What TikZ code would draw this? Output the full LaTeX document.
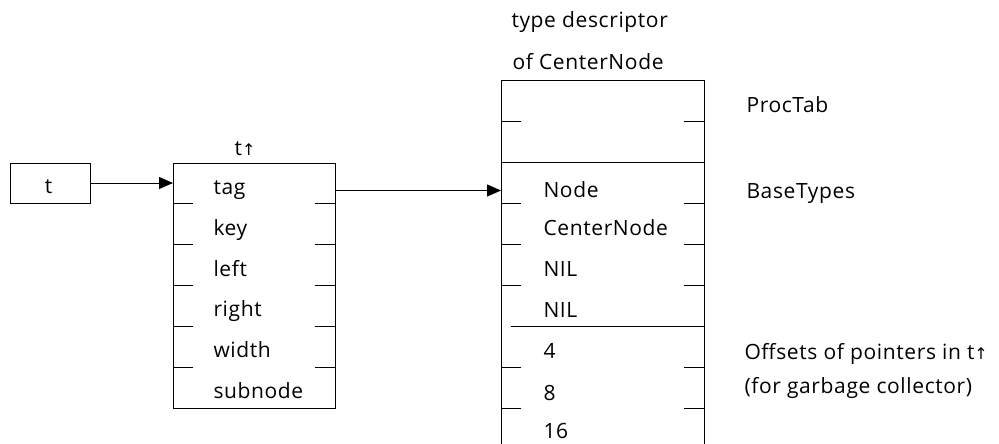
\documentclass[tikz,border=0pt]{standalone}
\usepackage{fontspec}
\setmainfont{Open Sans}[LetterSpace=3]
\newfontfamily\symf{DejaVu Sans}
\usetikzlibrary{arrows.meta}
\newcommand{\uparr}{{\symf\fontsize{16}{20}\selectfont ↑}}
\begin{document}
\begin{tikzpicture}[x=1pt,y=-1pt,line width=1pt,
  lbl/.style={anchor=base west,inner sep=0pt,font=\fontsize{21}{25}\selectfont},
  arr/.style={-{Triangle[length=14pt,width=12pt]}},
  tick/.style={line width=1pt}]
\useasboundingbox (0,0) rectangle (999,444);
% pointer variable t
\node[draw,minimum width=80pt,minimum height=40pt,inner sep=0pt] (tbox) at (50,183) {};
\node[lbl,anchor=base] (tlabel) at (48.5,193) {t};
% record t^
\node[draw,minimum width=162pt,minimum height=245pt,inner sep=0pt,anchor=north west] (rec) at (173,163) {};
\foreach \y in {203.8,244.7,285.5,326.3,367.2}{
  \draw[tick] (173,\y) -- +(20,0);
  \draw[tick] (335,\y) -- +(-20,0);
}
\node[lbl,anchor=base] (rectitle) at (245,155) {t\uparr};
\node[lbl] (ftag) at (213,194) {tag};
\node[lbl] (fkey) at (213,235) {key};
\node[lbl] (fleft) at (213,276) {left};
\node[lbl] (fright) at (213,316) {right};
\node[lbl] (fwidth) at (213,357) {width};
\node[lbl] (fsub) at (213,398) {subnode};
% type descriptor
\draw (501,444) -- (501,81) -- (704,81) -- (704,444);
\draw (501,162) -- (704,162);
\draw (511,326.5) -- (704,326.5);
\foreach \y in {121.5,203.5,244.5,285.5,367,408}{
  \draw[tick] (501,\y) -- +(20,0);
  \draw[tick] (704,\y) -- +(-20,0);
}
\node[lbl] (td1) at (511,28) {type descriptor};
\node[lbl] (td2) at (512,70) {of CenterNode};
\node[lbl] (dnode) at (543,197) {Node};
\node[lbl] (dcenter) at (543,235) {CenterNode};
\node[lbl] (dnil1) at (543,276) {NIL};
\node[lbl] (dnil2) at (543,317) {NIL};
\node[lbl] (d4) at (543,358) {4};
\node[lbl] (d8) at (543,400) {8};
\node[lbl] (d16) at (543,438) {16};
\node[lbl] (sproc) at (746,112) {ProcTab};
\node[lbl] (sbase) at (746,198) {BaseTypes};
\node[lbl] (soff) at (744,359) {Offsets of pointers in t\uparr};
\node[lbl] (sgc) at (744,393) {(for garbage collector)};
% connectors
\coordinate (recin) at (rec.west |- tbox.east);
\draw[arr] (tbox.east) -- (recin);
\coordinate (tagout) at (335,190.5);
\coordinate (descin) at (501,190.5);
\draw[arr] (tagout) -- (descin);
\end{tikzpicture}
\end{document}
